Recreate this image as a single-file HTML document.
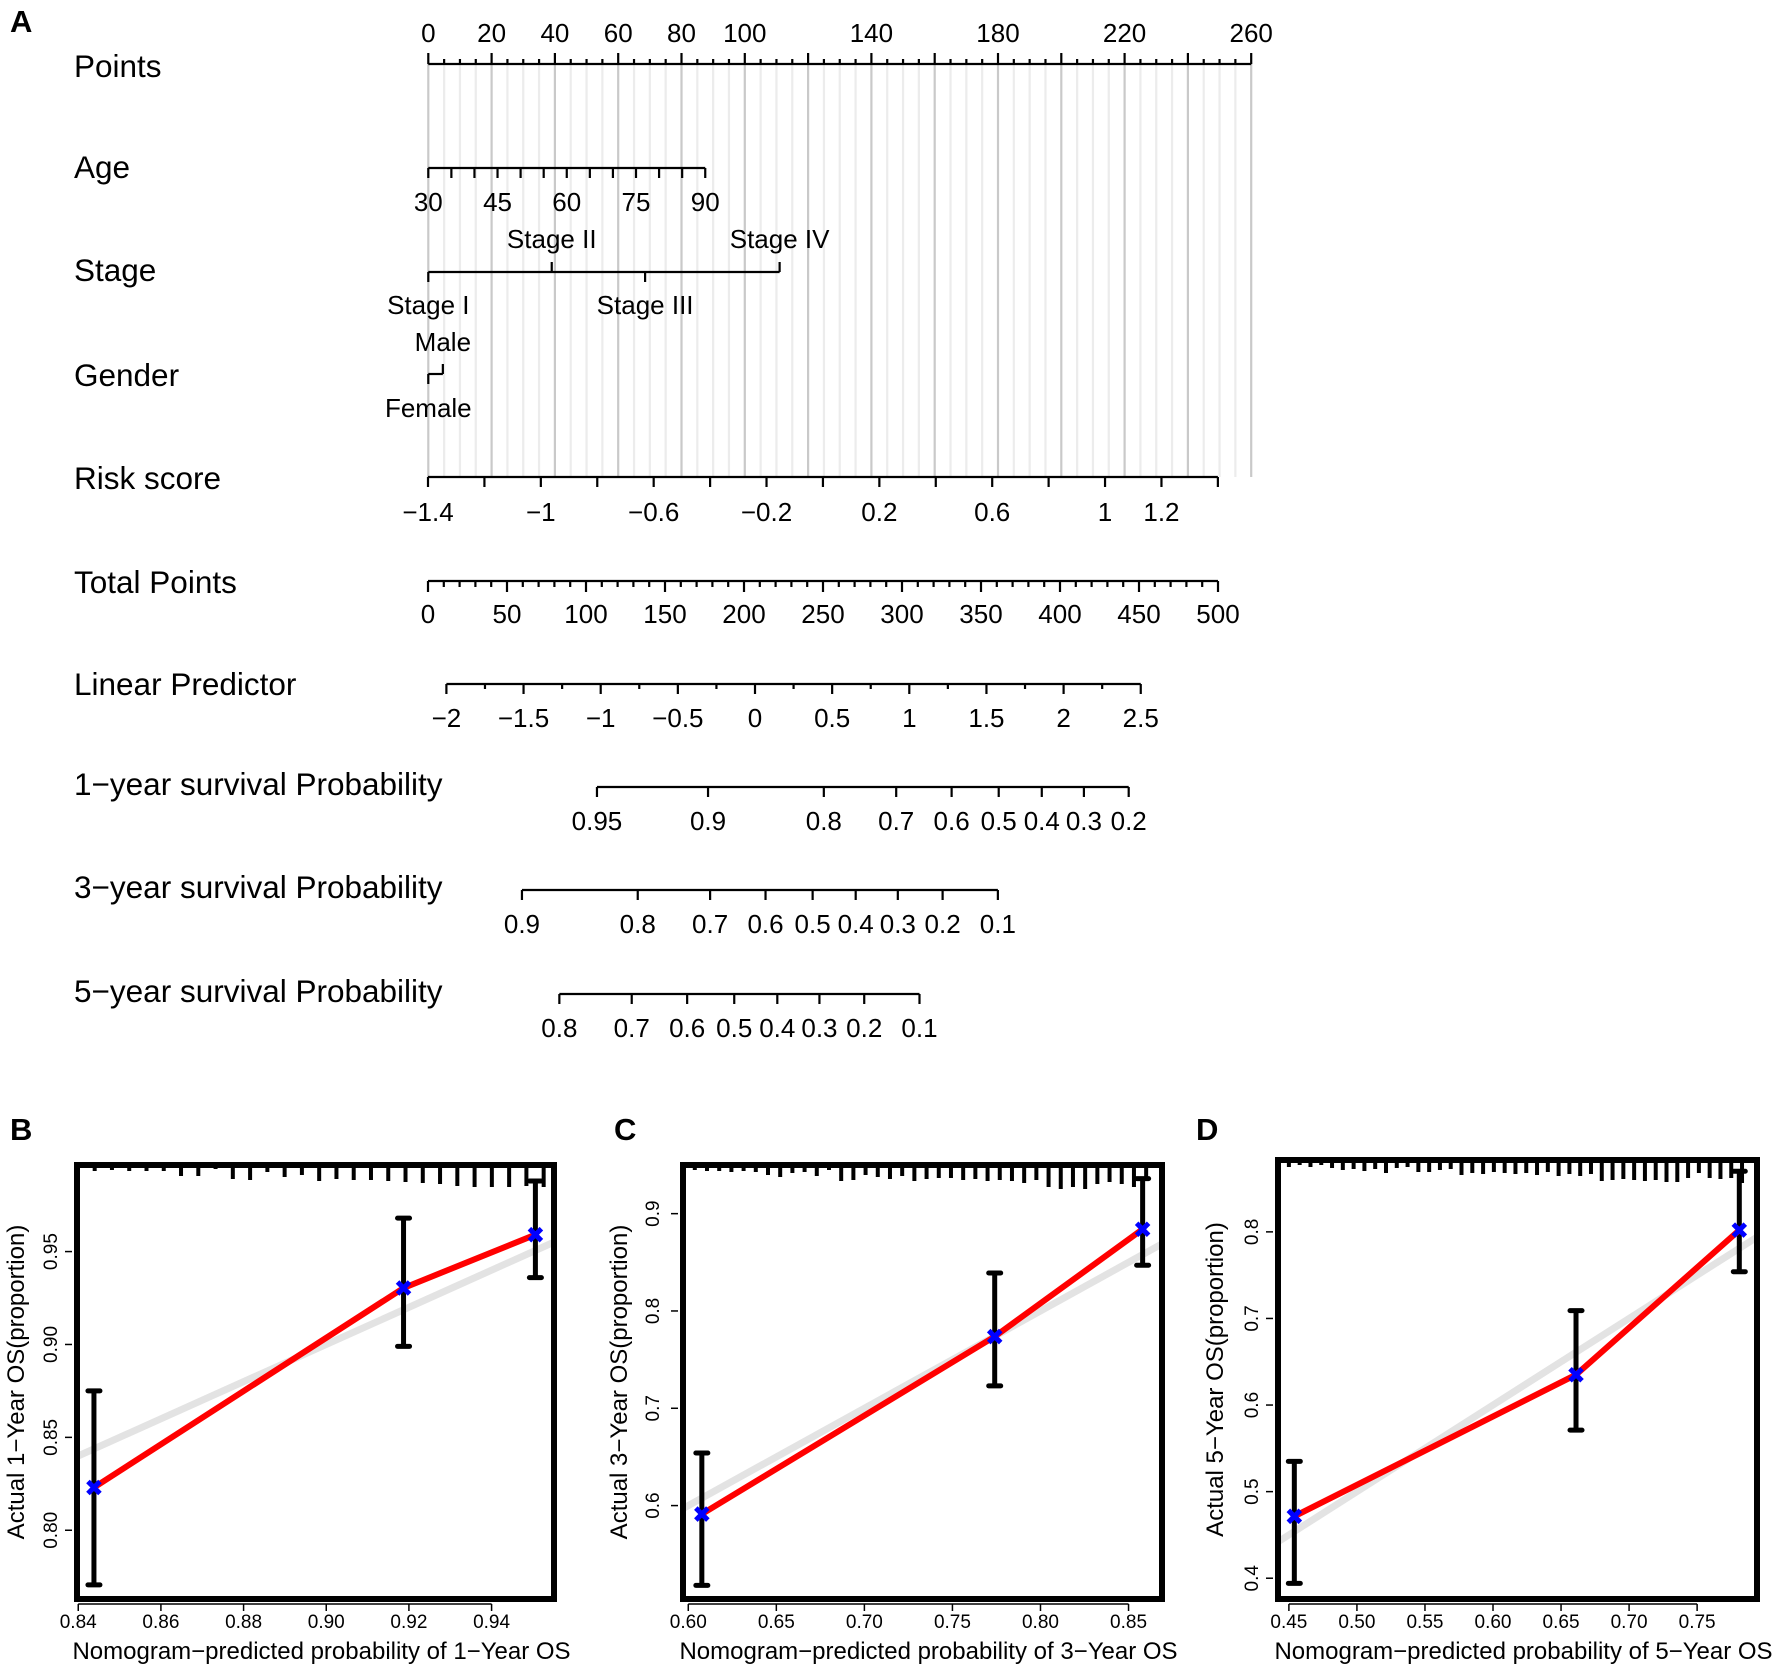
<!DOCTYPE html>
<html><head><meta charset="utf-8">
<style>
html,body{margin:0;padding:0;background:#fff;}
svg{display:block;font-family:"Liberation Sans",Arial,sans-serif;}
</style></head>
<body>
<svg id="fig" width="1772" height="1666" viewBox="0 0 1772 1666" xmlns="http://www.w3.org/2000/svg">
<rect width="1772" height="1666" fill="#fff"/>
<text x="10" y="32" font-size="31" font-weight="bold">A</text>
<text x="10" y="1140" font-size="31" font-weight="bold">B</text>
<text x="614" y="1140" font-size="31" font-weight="bold">C</text>
<text x="1196" y="1140" font-size="31" font-weight="bold">D</text>
<g id="nomo"></g>
<g id="pB"></g>
<g id="pC"></g>
<g id="pD"></g>
</svg>
<script>
// ---------- Nomogram data ----------
const rowNames = ["Points","Age","Stage","Gender","Risk score","Total Points","Linear Predictor","1\u2212year survival Probability","3\u2212year survival Probability","5\u2212year survival Probability"];
const pointsTickLabels = [0,20,40,60,80,100,140,180,220,260];
const ageValues = [30,35,40,45,50,55,60,65,70,75,80,85,90];
const ageLabels = [30,45,60,75,90];
const agePointsAt90 = 87.5;
const stageLabels = ["Stage I","Stage II","Stage III","Stage IV"];
const stagePoints = [0,39,68.5,111];
const genderLabels = ["Female","Male"];
const genderPoints = [0,4.6];
const riskTicks = [-1.4,-1.2,-1,-0.8,-0.6,-0.4,-0.2,0,0.2,0.4,0.6,0.8,1,1.2,1.4];
const riskLabels = [-1.4,-1,-0.6,-0.2,0.2,0.6,1,1.2];
const totalLabels = [0,50,100,150,200,250,300,350,400,450,500];
const lpLabels = [-2,-1.5,-1,-0.5,0,0.5,1,1.5,2,2.5];
const surv1 = [0.95,0.9,0.8,0.7,0.6,0.5,0.4,0.3,0.2];
const surv3 = [0.9,0.8,0.7,0.6,0.5,0.4,0.3,0.2,0.1];
const surv5 = [0.8,0.7,0.6,0.5,0.4,0.3,0.2,0.1];
const survBase = [-1.946,-0.740,-0.232];

// ---------- Calibration data ----------
const predB = [0.8438,0.9187,0.9506];
const obsB = [0.823,0.9304,0.9591];
const loB = [0.7706,0.899,0.936];
const hiB = [0.875,0.968,0.988];
const rugB = [1,3,2,3,3,3,8,8,1,11,12,4,9,7,13,11,12,12,13,14,15,16,18,19,19,19,18,19];
const predC = [0.6077,0.774,0.858];
const obsC = [0.5913,0.7737,0.884];
const loC = [0.518,0.723,0.847];
const hiC = [0.654,0.839,0.936];
const rugC = [2,3,3,4,3,4,7,9,5,4,8,2,13,12,7,9,11,8,13,11,10,10,12,11,13,12,13,15,12,19,21,19,21,16,14,16,19,13];
const predD = [0.454,0.661,0.781];
const obsD = [0.4715,0.635,0.802];
const loD = [0.394,0.571,0.754];
const hiD = [0.535,0.709,0.870];
const rugD = [4,2,4,2,5,7,6,8,6,10,5,4,9,9,7,6,12,10,11,9,10,11,10,12,9,13,11,13,11,18,17,16,17,18,17,19,19,15,10,15,16,15,20];

const NS="http://www.w3.org/2000/svg";
function el(parent,tag,attrs,text){const e=document.createElementNS(NS,tag);for(const k in attrs)e.setAttribute(k,attrs[k]);if(text!==undefined)e.textContent=text;parent.appendChild(e);return e;}
function fmt(v){return String(v).replace('-','\u2212');}

const nomo=document.getElementById('nomo');
const X0=428.3, PPX=3.165;
const xPts=p=>X0+PPX*p;
const xTot=t=>428+1.58*t;
const xRisk=r=>428+282.1*(r+1.4);
const xAge=a=>xPts(agePointsAt90*(a-30)/60);
const xLP=l=>755+154.3*l;
const rowY=[64,168,272,374,477,581,684,787,890,994];
const nameY=[66,167,270,375,478,582,684,784,887,991];
const TF=26, NF=31.5;

for(let p=0;p<=260;p+=5){
  const ln=el(nomo,'line',{x1:xPts(p),x2:xPts(p),y1:64,y2:477,stroke:p%20===0?'#c9c9c9':'#ececec','stroke-width':2.2});
  
  
}
rowNames.forEach((n,i)=>{
  const t=el(nomo,'text',{x:74,y:nameY[i],'font-size':NF,'dominant-baseline':'central'},n);
  
  
});
function hline(x1,x2,y,name){const l=el(nomo,'line',{x1:x1,x2:x2,y1:y,y2:y,stroke:'#000','stroke-width':2.2});}
function tick(x,y,len){const l=el(nomo,'line',{x1:x,x2:x,y1:y,y2:y+len,stroke:'#000','stroke-width':2.2});}
function lab(x,y,s){const t=el(nomo,'text',{x:x,y:y,'font-size':TF,'text-anchor':'middle','dominant-baseline':'central'},s);}

hline(xPts(0),xPts(260),rowY[0],'points-axis');
for(let p=0;p<=260;p+=5) tick(xPts(p),rowY[0],p%20===0?-11:-5);
pointsTickLabels.forEach(p=>lab(xPts(p),rowY[0]-31,fmt(p)));
hline(xAge(30),xAge(90),rowY[1],'age-axis');
ageValues.forEach(a=>tick(xAge(a),rowY[1],10));
ageLabels.forEach(a=>lab(xAge(a),rowY[1]+34,fmt(a)));
hline(xPts(stagePoints[0]),xPts(stagePoints[3]),rowY[2],'stage-axis');
stagePoints.forEach((p,i)=>{const up=(i%2===1);tick(xPts(p),rowY[2],up?-10:10);lab(xPts(p),up?rowY[2]-33:rowY[2]+33,stageLabels[i]);});
hline(xPts(genderPoints[0]),xPts(genderPoints[1]),rowY[3],'gender-axis');
tick(xPts(genderPoints[0]),rowY[3],10);lab(xPts(genderPoints[0]),rowY[3]+34,genderLabels[0]);
tick(xPts(genderPoints[1]),rowY[3],-10);lab(xPts(genderPoints[1]),rowY[3]-32,genderLabels[1]);
hline(xRisk(riskTicks[0]),xRisk(riskTicks[riskTicks.length-1]),rowY[4],'risk-axis');
riskTicks.forEach(r=>tick(xRisk(r),rowY[4],10));
riskLabels.forEach(r=>lab(xRisk(r),rowY[4]+35,fmt(r)));
hline(xTot(0),xTot(500),rowY[5],'total-points-axis');
for(let t=0;t<=500;t+=10) tick(xTot(t),rowY[5],t%50===0?11:6);
totalLabels.forEach(t=>lab(xTot(t),rowY[5]+33,fmt(t)));
hline(xLP(-2),xLP(2.5),rowY[6],'linear-predictor-axis');
for(let l=-2;l<=2.5001;l+=0.25) tick(xLP(l),rowY[6],Math.abs(l*2-Math.round(l*2))<1e-6?10:5);
lpLabels.forEach(l=>lab(xLP(l),rowY[6]+34,fmt(l)));
[surv1,surv3,surv5].forEach((arr,k)=>{
  const y=rowY[7+k];
  const xs=arr.map(s=>xLP(Math.log(-Math.log(s))-survBase[k]));
  hline(xs[0],xs[xs.length-1],y,'survival-axis-'+(k+1));
  xs.forEach((x,i)=>{tick(x,y,10);lab(x,y+34,fmt(arr[i]));});
});

function panel(id,box,dom,pred,obs,lo,hi,rug,xt,yt,xtitle,ytitle,ytx,ytitleX){
  const g=document.getElementById(id);
  const sx=v=>box.x0+(v-dom.x0)/(dom.x1-dom.x0)*(box.x1-box.x0);
  const sy=v=>box.y1-(v-dom.y0)/(dom.y1-dom.y0)*(box.y1-box.y0);
  const cid='clip'+id;
  const cp=el(g,'clipPath',{id:cid});el(cp,'rect',{x:box.x0,y:box.y0,width:box.x1-box.x0,height:box.y1-box.y0});
  const inner=el(g,'g',{'clip-path':'url(#'+cid+')'});
  const n=rug.length, r0=pred[0]-0.004, r1=pred[2]+0.002;
  rug.forEach((h,i)=>{
    const v=r0+(r1-r0)*i/(n-1);
    const s=el(inner,'line',{x1:sx(v),x2:sx(v),y1:box.y0,y2:box.y0+3+h,stroke:'#000','stroke-width':4});
    
    
  });
  const id1=el(inner,'line',{x1:sx(dom.x0),y1:sy(dom.x0),x2:sx(dom.x1),y2:sy(dom.x1),stroke:'#e3e3e3','stroke-width':7});
  
  
  pred.forEach((p,i)=>{
    const eb=el(inner,'g',{});
    
    
    el(eb,'line',{x1:sx(p),x2:sx(p),y1:sy(lo[i]),y2:sy(hi[i]),stroke:'#000','stroke-width':5});
    el(eb,'line',{x1:sx(p)-6,x2:sx(p)+6,y1:sy(lo[i]),y2:sy(lo[i]),stroke:'#000','stroke-width':5,'stroke-linecap':'round'});
    el(eb,'line',{x1:sx(p)-6,x2:sx(p)+6,y1:sy(hi[i]),y2:sy(hi[i]),stroke:'#000','stroke-width':5,'stroke-linecap':'round'});
  });
  const pl=el(inner,'polyline',{points:pred.map((p,i)=>sx(p)+','+sy(obs[i])).join(' '),fill:'none',stroke:'#ff0000','stroke-width':6});
  
  
  pred.forEach((p,i)=>{
    const m=el(inner,'path',{d:`M${sx(p)-6},${sy(obs[i])-6}L${sx(p)+6},${sy(obs[i])+6}M${sx(p)+6},${sy(obs[i])-6}L${sx(p)-6},${sy(obs[i])+6}`,stroke:'#0000ff','stroke-width':5});
    
    
  });
  const fr=el(g,'rect',{x:box.x0,y:box.y0,width:box.x1-box.x0,height:box.y1-box.y0,fill:'none',stroke:'#000','stroke-width':6});
  
  
  const ay=box.y1+5;
  el(g,'line',{x1:sx(xt[0]),x2:sx(xt[xt.length-1]),y1:ay,y2:ay,stroke:'#000','stroke-width':1.5});
  xt.forEach(v=>{
    el(g,'line',{x1:sx(v),x2:sx(v),y1:ay,y2:ay+7,stroke:'#000','stroke-width':1.5});
    const t=el(g,'text',{x:sx(v),y:box.y1+29,'font-size':19,'text-anchor':'middle'},v.toFixed(2));
    
    
  });
  const xtl=el(g,'text',{x:(box.x0+box.x1)/2+6,y:1659,'font-size':24,'text-anchor':'middle'},xtitle);
  
  
  const ax=box.x0-5;
  yt.forEach(v=>{
    el(g,'line',{x1:ax,x2:ax-7,y1:sy(v),y2:sy(v),stroke:'#000','stroke-width':1.5});
    const t=el(g,'text',{x:ytx,y:sy(v),'font-size':19,'text-anchor':'middle',transform:`rotate(-90 ${ytx} ${sy(v)})`},yt.dec?v.toFixed(yt.dec):String(v));
    
    
  });
  const cy=(box.y0+box.y1)/2;
  const ytl=el(g,'text',{x:ytitleX,y:cy,'font-size':24,'text-anchor':'middle',transform:`rotate(-90 ${ytitleX} ${cy})`},ytitle);
  
  
}
const ytB=[0.80,0.85,0.90,0.95]; ytB.dec=2;
panel('pB',{x0:77,x1:554,y0:1165,y1:1599},{x0:0.8397,x1:0.9551,y0:0.763,y1:0.9966},predB,obsB,loB,hiB,rugB,[0.84,0.86,0.88,0.90,0.92,0.94],ytB,'Nomogram\u2212predicted probability of 1\u2212Year OS','Actual 1\u2212Year OS(proportion)',57,24);
const ytC=[0.6,0.7,0.8,0.9];
panel('pC',{x0:683,x1:1162,y0:1165,y1:1599},{x0:0.597,x1:0.869,y0:0.504,y1:0.950},predC,obsC,loC,hiC,rugC,[0.60,0.65,0.70,0.75,0.80,0.85],ytC,'Nomogram\u2212predicted probability of 3\u2212Year OS','Actual 3\u2212Year OS(proportion)',659,627);
const ytD=[0.4,0.5,0.6,0.7,0.8];
panel('pD',{x0:1278,x1:1757,y0:1160,y1:1599},{x0:0.442,x1:0.794,y0:0.376,y1:0.883},predD,obsD,loD,hiD,rugD,[0.45,0.50,0.55,0.60,0.65,0.70,0.75],ytD,'Nomogram\u2212predicted probability of 5\u2212Year OS','Actual 5\u2212Year OS(proportion)',1258,1223);
</script>
</body></html>
